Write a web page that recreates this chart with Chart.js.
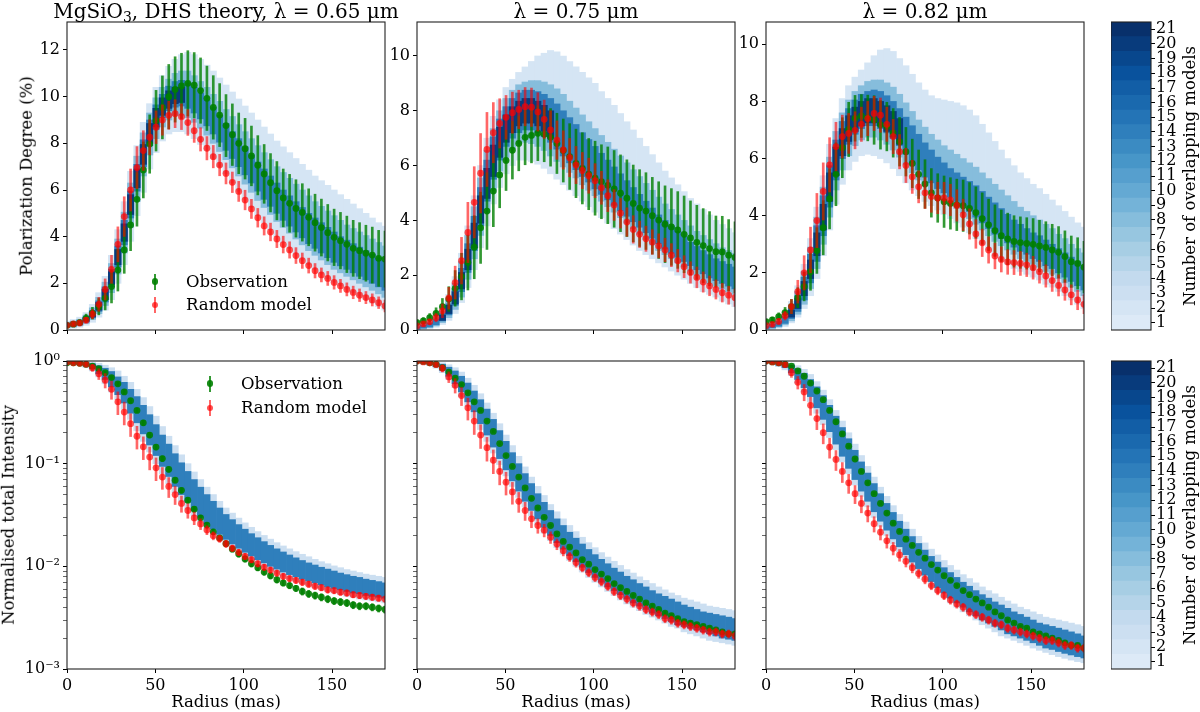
<!DOCTYPE html>
<html><head><meta charset="utf-8">
<script src="https://cdn.jsdelivr.net/npm/chart.js@4.4.1/dist/chart.umd.min.js"></script>
<style>
html,body{margin:0;padding:0;background:#fff;}
body{width:1200px;height:712px;position:relative;overflow:hidden;font-family:'DejaVu Serif',serif;color:#000;}
canvas{position:absolute;}
.t{position:absolute;white-space:nowrap;line-height:1;}
sub{font-size:70%;vertical-align:-0.25em;line-height:0;}
.mk{position:absolute;}
</style></head><body>
<script>
// ---------------- DATA ----------------
const radius = [0,3.6,7.2,10.8,14.4,18,21.6,25.2,28.8,32.4,36,39.6,43.2,46.8,50.4,54,57.6,61.2,64.8,68.4,72,75.6,79.2,82.8,86.4,90,93.6,97.2,100.8,104.4,108,111.6,115.2,118.8,122.4,126,129.6,133.2,136.8,140.4,144,147.6,151.2,154.8,158.4,162,165.6,169.2,172.8,176.4,180];
const radiusTicks = [0,50,100,150];
const cbLevels = [1,2,3,4,5,6,7,8,9,10,11,12,13,14,15,16,17,18,19,20,21];
const logTicks = [0.001,0.002,0.003,0.004,0.005,0.006,0.007,0.008,0.009,0.01,0.02,0.03,0.04,0.05,0.06,0.07,0.08,0.09,0.1,0.2,0.3,0.4,0.5,0.6,0.7,0.8,0.9,1];
const titles = ['MgSiO<sub>3</sub>, DHS theory, λ = 0.65 μm','λ = 0.75 μm','λ = 0.82 μm'];

// Polarization degree (%), λ = 0.65
const pol065Obs = [0.2,0.25,0.32,0.5,0.72,1.0,1.36,1.86,2.57,3.43,4.5,5.6,6.86,7.97,8.97,9.54,10.0,10.31,10.46,10.57,10.49,10.26,9.93,9.54,9.21,8.76,8.37,8.0,7.77,7.46,7.06,6.69,6.31,5.97,5.66,5.43,5.21,5.04,4.83,4.6,4.39,4.17,3.97,3.83,3.67,3.5,3.4,3.29,3.21,3.07,3.04];
const pol065ObsErr = [0.08,0.1,0.12,0.18,0.25,0.35,0.5,0.7,0.9,1.0,1.1,1.15,1.2,1.25,1.3,1.35,1.38,1.4,1.4,1.4,1.4,1.4,1.38,1.36,1.35,1.33,1.32,1.3,1.3,1.28,1.27,1.26,1.25,1.25,1.24,1.24,1.23,1.23,1.22,1.22,1.22,1.21,1.21,1.21,1.21,1.2,1.2,1.2,1.2,1.2,1.2];
const pol065Mod = [0.2,0.26,0.3,0.42,0.68,1.1,1.74,2.6,3.67,4.86,6.0,6.96,7.69,8.26,8.69,9.0,9.2,9.27,9.14,8.89,8.54,8.17,7.79,7.43,7.07,6.71,6.33,5.94,5.57,5.19,4.81,4.46,4.2,3.9,3.66,3.43,3.19,2.97,2.76,2.54,2.36,2.21,2.04,1.89,1.74,1.61,1.49,1.39,1.29,1.17,1.03];
const pol065ModErr = [0.05,0.06,0.08,0.12,0.2,0.3,0.45,0.6,0.75,0.85,0.9,0.9,0.85,0.75,0.7,0.65,0.6,0.6,0.55,0.55,0.5,0.5,0.5,0.48,0.46,0.45,0.44,0.43,0.42,0.41,0.4,0.39,0.38,0.37,0.36,0.35,0.34,0.33,0.32,0.31,0.3,0.3,0.29,0.28,0.28,0.27,0.27,0.26,0.26,0.25,0.25];
// model-overlap bands per radius: [outerLo, outerHi, midLo, midHi, coreLo, coreHi]
const pol065Bands = [[0.05,0.38,0.1,0.32,0.13,0.27],[0.08,0.45,0.13,0.38,0.17,0.32],[0.12,0.55,0.18,0.46,0.22,0.4],[0.2,0.75,0.28,0.64,0.34,0.56],[0.33,1.1,0.45,0.95,0.52,0.83],[0.55,1.6,0.7,1.4,0.8,1.25],[0.85,2.3,1.05,2.05,1.2,1.85],[1.3,3.2,1.6,2.85,1.85,2.6],[2.0,4.3,2.4,3.9,2.7,3.6],[2.8,5.5,3.3,5.05,3.65,4.7],[3.8,6.8,4.4,6.3,4.8,5.95],[4.9,7.9,5.5,7.45,5.95,7.1],[5.9,8.9,6.6,8.45,7.0,8.15],[6.9,9.7,7.5,9.3,7.9,9.0],[7.6,10.4,8.2,9.95,8.6,9.65],[8.1,10.9,8.7,10.4,9.1,10.1],[8.4,11.3,9.0,10.75,9.4,10.45],[8.5,11.6,9.2,11.0,9.55,10.65],[8.5,11.8,9.2,11.1,9.6,10.7],[8.4,11.9,9.1,11.1,9.5,10.6],[8.2,11.8,8.9,10.9,9.3,10.4],[7.95,11.6,8.65,10.65,9.05,10.15],[7.7,11.35,8.35,10.4,8.75,9.85],[7.35,11.1,8.0,10.1,8.4,9.55],[7.0,10.8,7.65,9.8,8.05,9.2],[6.7,10.5,7.3,9.45,7.7,8.85],[6.3,10.2,6.95,9.15,7.35,8.5],[5.95,9.9,6.6,8.8,7.0,8.2],[5.6,9.6,6.25,8.5,6.65,7.85],[5.25,9.3,5.9,8.2,6.3,7.5],[4.9,9.0,5.55,7.9,5.95,7.2],[4.6,8.7,5.25,7.6,5.6,6.9],[4.3,8.4,4.95,7.3,5.3,6.6],[4.0,8.1,4.65,7.0,5.0,6.3],[3.75,7.85,4.4,6.75,4.7,6.0],[3.5,7.6,4.15,6.5,4.45,5.75],[3.25,7.35,3.9,6.25,4.2,5.5],[3.0,7.1,3.65,6.0,3.95,5.25],[2.8,6.85,3.4,5.75,3.7,5.0],[2.6,6.6,3.2,5.5,3.5,4.8],[2.4,6.4,3.0,5.3,3.3,4.6],[2.2,6.2,2.8,5.1,3.1,4.4],[2.05,6.0,2.6,4.9,2.9,4.2],[1.9,5.8,2.45,4.7,2.75,4.0],[1.75,5.6,2.3,4.5,2.6,3.85],[1.6,5.4,2.15,4.35,2.45,3.7],[1.45,5.2,2.0,4.2,2.3,3.55],[1.3,5.0,1.85,4.05,2.15,3.4],[1.15,4.8,1.7,3.9,2.0,3.25],[1.0,4.6,1.55,3.75,1.85,3.1],[0.85,4.45,1.4,3.6,1.7,2.95]];
const pol065Dense = [null,null,null,[0.38,0.52],[0.56,0.78],[0.85,1.18],[1.3,1.75],[1.95,2.5],[2.8,3.45],[3.8,4.55],[4.95,5.8],[6.1,6.9],[7.1,7.95],[8.0,8.85],[8.7,9.5],[9.2,9.95],[9.5,10.25],[9.7,10.4],[9.75,10.4]];

// λ = 0.75
const pol075Obs = [0.27,0.33,0.45,0.61,0.85,1.13,1.52,1.95,2.46,3.02,3.73,4.34,5.07,5.66,6.19,6.56,6.81,7.03,7.1,7.18,7.14,7.03,6.81,6.55,6.33,6.08,5.9,5.69,5.54,5.41,5.28,5.15,4.99,4.81,4.62,4.45,4.34,4.17,4.01,3.86,3.76,3.65,3.49,3.36,3.2,3.08,2.97,2.86,2.85,2.73,2.65];
const pol075ObsErr = [0.1,0.12,0.15,0.2,0.3,0.45,0.65,0.85,1.0,1.15,1.3,1.4,1.3,1.2,1.1,1.05,1.0,1.0,1.0,1.0,1.0,1.05,1.1,1.15,1.2,1.25,1.3,1.3,1.35,1.35,1.4,1.4,1.4,1.4,1.4,1.4,1.4,1.4,1.4,1.4,1.4,1.4,1.4,1.35,1.35,1.35,1.35,1.3,1.3,1.3,1.3];
const pol075Mod = [0.15,0.22,0.3,0.45,0.7,1.16,1.73,2.53,3.56,4.66,5.72,6.59,7.2,7.54,7.76,7.93,8.05,8.15,8.13,7.96,7.69,7.3,6.93,6.57,6.29,6.02,5.82,5.63,5.45,5.19,4.9,4.56,4.26,3.94,3.67,3.49,3.33,3.21,3.07,2.92,2.73,2.53,2.31,2.1,1.92,1.75,1.61,1.48,1.36,1.27,1.18];
const pol075ModErr = [0.05,0.08,0.1,0.15,0.25,0.4,0.6,0.85,1.1,1.3,1.45,1.35,1.1,0.9,0.8,0.75,0.7,0.7,0.7,0.7,0.7,0.7,0.7,0.7,0.7,0.68,0.66,0.64,0.62,0.6,0.58,0.56,0.54,0.52,0.5,0.48,0.46,0.45,0.44,0.43,0.42,0.41,0.4,0.39,0.38,0.37,0.36,0.35,0.34,0.33,0.32];
const pol075Bands = [[0.0,0.2,0.02,0.15,0.04,0.12],[0.02,0.28,0.05,0.22,0.07,0.18],[0.05,0.38,0.08,0.3,0.11,0.26],[0.1,0.55,0.15,0.45,0.19,0.38],[0.2,0.85,0.27,0.7,0.33,0.6],[0.35,1.3,0.45,1.1,0.55,0.95],[0.6,1.95,0.75,1.7,0.9,1.5],[1.0,2.8,1.2,2.5,1.4,2.25],[1.55,3.8,1.85,3.45,2.1,3.15],[2.2,4.9,2.6,4.5,2.9,4.15],[3.0,6.0,3.45,5.55,3.8,5.2],[3.8,7.0,4.3,6.55,4.7,6.2],[4.6,7.8,5.1,7.35,5.5,7.05],[5.2,8.4,5.8,8.0,6.2,7.7],[5.7,8.85,6.3,8.45,6.7,8.15],[6.0,9.15,6.6,8.75,7.0,8.45],[6.2,9.4,6.8,8.95,7.2,8.65],[6.2,9.6,6.85,9.05,7.3,8.75],[6.15,9.8,6.8,9.1,7.3,8.75],[6.05,10.0,6.7,9.1,7.2,8.7],[5.9,10.1,6.55,9.05,7.05,8.6],[5.7,10.2,6.35,8.95,6.85,8.45],[5.5,10.15,6.15,8.8,6.6,8.25],[5.3,10.0,5.95,8.6,6.35,8.0],[5.1,9.8,5.75,8.35,6.1,7.75],[4.9,9.6,5.55,8.1,5.85,7.5],[4.7,9.4,5.3,7.85,5.6,7.2],[4.5,9.2,5.1,7.6,5.4,6.95],[4.3,9.0,4.9,7.35,5.15,6.7],[4.1,8.7,4.7,7.1,4.95,6.45],[3.9,8.45,4.5,6.85,4.75,6.2],[3.7,8.2,4.3,6.6,4.55,5.95],[3.5,7.9,4.1,6.35,4.35,5.7],[3.3,7.6,3.9,6.1,4.15,5.45],[3.1,7.3,3.7,5.85,3.95,5.2],[2.9,7.0,3.5,5.6,3.75,4.95],[2.75,6.7,3.3,5.35,3.55,4.7],[2.6,6.4,3.1,5.1,3.35,4.45],[2.45,6.1,2.9,4.85,3.15,4.2],[2.3,5.8,2.75,4.6,2.95,4.0],[2.15,5.55,2.6,4.4,2.8,3.8],[2.0,5.3,2.45,4.2,2.65,3.6],[1.85,5.05,2.3,4.0,2.5,3.4],[1.7,4.8,2.15,3.8,2.35,3.2],[1.55,4.6,2.0,3.6,2.2,3.05],[1.4,4.4,1.85,3.45,2.05,2.9],[1.3,4.2,1.7,3.3,1.9,2.75],[1.2,4.0,1.6,3.15,1.8,2.6],[1.05,3.85,1.5,3.0,1.7,2.5],[0.95,3.7,1.4,2.9,1.6,2.4],[0.85,3.55,1.3,2.8,1.5,2.3]];
const pol075Dense = [null,null,null,null,[0.35,0.55],[0.6,0.9],[0.95,1.4],[1.5,2.1],[2.2,2.95],[3.0,3.9],[3.9,4.9],[4.8,5.9],[5.6,6.75],[6.3,7.4],[6.85,7.85],[7.2,8.15],[7.45,8.35],[7.55,8.45],[7.55,8.45],[7.45,8.35],[7.25,8.2],[7.0,8.0]];

// λ = 0.82
const pol082Obs = [0.29,0.35,0.47,0.61,0.82,1.13,1.52,2.04,2.78,3.58,4.59,5.45,6.38,7.02,7.41,7.49,7.42,7.35,7.18,7.12,6.9,6.59,6.24,5.83,5.45,5.11,4.8,4.62,4.49,4.43,4.38,4.35,4.26,4.11,3.9,3.68,3.48,3.3,3.19,3.1,3.06,3.03,3.0,2.94,2.89,2.8,2.72,2.57,2.39,2.33,2.2];
const pol082ObsErr = [0.08,0.1,0.13,0.18,0.25,0.35,0.5,0.65,0.8,0.95,1.05,1.1,1.05,0.95,0.8,0.75,0.8,0.85,0.85,0.85,0.85,0.85,0.85,0.85,0.85,0.85,0.85,0.85,0.9,0.9,0.9,0.9,0.9,0.9,0.9,0.9,0.9,0.9,0.9,0.9,0.9,0.9,0.9,0.9,0.9,0.9,0.9,0.9,0.9,0.9,0.9];
const pol082Mod = [0.15,0.2,0.3,0.5,0.82,1.34,2.0,2.8,3.83,4.85,5.78,6.42,6.77,6.88,6.99,7.2,7.4,7.58,7.52,7.2,6.77,6.24,5.76,5.36,5.01,4.8,4.67,4.62,4.62,4.55,4.36,4.03,3.71,3.36,3.05,2.8,2.59,2.47,2.38,2.36,2.33,2.28,2.18,2.04,1.89,1.73,1.56,1.4,1.23,1.05,0.9];
const pol082ModErr = [0.05,0.07,0.1,0.15,0.25,0.4,0.6,0.8,0.95,1.0,0.95,0.85,0.75,0.7,0.65,0.6,0.6,0.6,0.6,0.6,0.6,0.6,0.6,0.58,0.56,0.55,0.55,0.55,0.55,0.55,0.55,0.55,0.53,0.5,0.48,0.46,0.45,0.44,0.43,0.42,0.42,0.41,0.4,0.4,0.39,0.38,0.37,0.36,0.35,0.34,0.33];
const pol082Bands = [[0.0,0.25,0.03,0.2,0.05,0.15],[0.02,0.32,0.05,0.26,0.08,0.21],[0.06,0.45,0.1,0.36,0.13,0.3],[0.12,0.65,0.18,0.55,0.23,0.47],[0.25,1.0,0.32,0.85,0.4,0.75],[0.45,1.55,0.55,1.35,0.65,1.2],[0.75,2.3,0.9,2.05,1.05,1.85],[1.2,3.2,1.45,2.9,1.65,2.65],[1.8,4.3,2.15,3.95,2.4,3.65],[2.6,5.4,3.0,5.0,3.3,4.7],[3.5,6.5,3.95,6.05,4.3,5.75],[4.4,7.4,4.9,6.95,5.25,6.65],[5.1,8.1,5.6,7.6,6.0,7.3],[5.6,8.55,6.1,8.05,6.5,7.75],[5.9,8.85,6.45,8.35,6.85,8.05],[6.1,9.1,6.65,8.55,7.05,8.25],[6.15,9.35,6.75,8.7,7.15,8.35],[6.1,9.6,6.75,8.75,7.15,8.4],[6.0,9.8,6.65,8.75,7.05,8.35],[5.85,9.85,6.5,8.65,6.9,8.2],[5.65,9.75,6.3,8.5,6.7,8.0],[5.4,9.5,6.05,8.25,6.45,7.75],[5.15,9.25,5.8,7.95,6.15,7.45],[4.9,8.95,5.5,7.65,5.85,7.15],[4.7,8.65,5.25,7.35,5.6,6.85],[4.5,8.4,5.05,7.1,5.35,6.55],[4.35,8.2,4.85,6.85,5.15,6.3],[4.2,8.1,4.7,6.65,4.95,6.05],[4.05,8.05,4.55,6.45,4.8,5.85],[3.9,8.0,4.4,6.3,4.65,5.65],[3.75,7.95,4.25,6.15,4.5,5.5],[3.6,7.85,4.1,6.0,4.35,5.35],[3.4,7.7,3.9,5.85,4.15,5.2],[3.2,7.5,3.7,5.7,3.95,5.05],[3.0,7.2,3.5,5.5,3.75,4.85],[2.8,6.9,3.3,5.3,3.55,4.65],[2.6,6.6,3.1,5.1,3.35,4.45],[2.45,6.3,2.95,4.9,3.2,4.25],[2.3,6.0,2.8,4.7,3.05,4.05],[2.15,5.75,2.65,4.5,2.9,3.85],[2.05,5.5,2.5,4.3,2.75,3.7],[1.95,5.3,2.4,4.15,2.65,3.55],[1.85,5.1,2.3,4.0,2.5,3.4],[1.75,4.95,2.2,3.85,2.4,3.3],[1.6,4.75,2.05,3.7,2.25,3.15],[1.5,4.55,1.95,3.55,2.15,3.0],[1.35,4.35,1.8,3.35,2.0,2.85],[1.2,4.15,1.65,3.2,1.85,2.7],[1.05,3.95,1.5,3.0,1.7,2.55],[0.9,3.75,1.35,2.85,1.55,2.4],[0.75,3.6,1.2,2.7,1.4,2.25]];
const pol082Dense = [null,null,null,null,[0.45,0.7],[0.75,1.1],[1.2,1.7],[1.8,2.45],[2.6,3.4],[3.5,4.4],[4.5,5.5],[5.4,6.4],[6.1,7.05],[6.6,7.5],[6.95,7.8],[7.15,8.0],[7.25,8.1],[7.25,8.1],[7.15,8.0],[6.95,7.85],[6.75,7.65],[6.5,7.4]];

// Normalised total intensity; errors in percent
const int065Obs = [0.96,0.96,0.95,0.93,0.89,0.84,0.77,0.69,0.6,0.5,0.41,0.33,0.25,0.19,0.145,0.112,0.088,0.069,0.055,0.044,0.036,0.0297,0.0252,0.0217,0.0189,0.0166,0.0147,0.0132,0.0118,0.0106,0.0097,0.0088,0.0081,0.0074,0.0069,0.0065,0.0061,0.0057,0.0054,0.0052,0.005,0.0048,0.0046,0.0045,0.0044,0.0042,0.0041,0.0041,0.004,0.0039,0.0038];
const int065ObsErrPct = [2,2,2,2,3,3,3,4,4,5,5,5,6,6,6,6,6,6,6,6,6,6,6,6,6,6,6,7,7,7,7,7,7,7,7,7,7,8,8,8,8,8,8,8,8,8,8,8,8,8,8];
const int065Mod = [0.98,0.96,0.95,0.93,0.86,0.75,0.65,0.53,0.4,0.318,0.245,0.185,0.146,0.116,0.091,0.074,0.06,0.05,0.041,0.035,0.0296,0.0259,0.0226,0.0199,0.0186,0.0166,0.015,0.0137,0.0125,0.0116,0.0106,0.0098,0.0092,0.0086,0.008,0.0076,0.0073,0.007,0.0067,0.0064,0.0062,0.0059,0.0058,0.0056,0.0055,0.0053,0.0052,0.0051,0.005,0.0049,0.0048];
const int065ModErrPct = [2,2,3,4,8,12,16,20,25,25,25,25,25,25,25,24,22,20,18,16,14,12,10,9,8,8,7,7,7,7,7,7,7,7,7,7,7,7,7,7,7,7,7,7,7,7,7,7,7,7,7];
// [outerLo, outerHi, coreLo, coreHi]
const int065Bands = [[0.93,1.0,0.95,1.0],[0.92,1.0,0.94,0.99],[0.9,0.99,0.92,0.98],[0.86,0.98,0.89,0.96],[0.8,0.97,0.84,0.94],[0.7,0.95,0.75,0.9],[0.6,0.91,0.66,0.85],[0.5,0.86,0.56,0.79],[0.42,0.8,0.47,0.7],[0.34,0.71,0.39,0.62],[0.27,0.62,0.31,0.53],[0.21,0.53,0.25,0.45],[0.165,0.44,0.195,0.37],[0.13,0.36,0.152,0.3],[0.1,0.29,0.12,0.24],[0.08,0.23,0.094,0.19],[0.064,0.185,0.075,0.155],[0.052,0.15,0.06,0.125],[0.043,0.122,0.05,0.102],[0.036,0.1,0.042,0.084],[0.031,0.083,0.035,0.07],[0.027,0.07,0.03,0.059],[0.0235,0.059,0.026,0.05],[0.0207,0.05,0.023,0.043],[0.0184,0.043,0.0205,0.037],[0.0165,0.037,0.0183,0.032],[0.0149,0.033,0.0165,0.0285],[0.0136,0.0295,0.015,0.0255],[0.0124,0.0265,0.0137,0.023],[0.0114,0.024,0.0126,0.0208],[0.0105,0.0218,0.0116,0.019],[0.0098,0.02,0.0108,0.0174],[0.0091,0.0184,0.01,0.016],[0.0085,0.017,0.0094,0.0148],[0.008,0.0158,0.0088,0.0138],[0.0075,0.0148,0.0083,0.0129],[0.0071,0.0139,0.0079,0.0121],[0.0068,0.0131,0.0075,0.0114],[0.0065,0.0124,0.0072,0.0108],[0.0062,0.0117,0.0069,0.0103],[0.0059,0.0111,0.0066,0.0098],[0.0057,0.0106,0.0063,0.0094],[0.0055,0.0101,0.0061,0.009],[0.0053,0.0097,0.0059,0.0086],[0.0051,0.0093,0.0057,0.0083],[0.005,0.009,0.0055,0.008],[0.0048,0.0087,0.0054,0.0078],[0.0047,0.0084,0.0052,0.0075],[0.0046,0.0082,0.0051,0.0073],[0.0045,0.008,0.005,0.0071],[0.0044,0.0078,0.0049,0.0069]];

const int075Obs = [1.0,0.99,0.96,0.93,0.86,0.78,0.68,0.59,0.49,0.4,0.33,0.26,0.206,0.157,0.12,0.094,0.074,0.058,0.046,0.037,0.03,0.025,0.0207,0.0175,0.0154,0.0135,0.0116,0.0105,0.0093,0.0084,0.0076,0.0068,0.0062,0.0057,0.0052,0.0048,0.0044,0.0041,0.0038,0.0035,0.0033,0.0031,0.0029,0.0028,0.0027,0.0026,0.0025,0.0024,0.0023,0.0022,0.0022];
const int075ObsErrPct = [1,1,1,2,2,2,3,3,3,3,3,3,3,3,3,3,3,3,3,3,3,3,3,3,3,3,3,3,3,3,3,4,4,4,4,4,4,4,4,4,4,4,4,4,4,4,4,4,4,4,4];
const int075Mod = [1.0,0.98,0.96,0.92,0.85,0.7,0.58,0.46,0.35,0.26,0.19,0.143,0.108,0.084,0.066,0.053,0.043,0.035,0.029,0.025,0.0225,0.0192,0.0165,0.0142,0.0124,0.0109,0.0097,0.0087,0.0078,0.0071,0.0064,0.0057,0.0052,0.0048,0.0044,0.0041,0.0038,0.0036,0.0034,0.0031,0.003,0.0028,0.0027,0.0026,0.0025,0.0024,0.0023,0.0023,0.0022,0.0022,0.0021];
const int075ModErrPct = [2,2,3,4,8,12,16,20,24,26,26,26,26,26,25,24,22,20,18,16,14,13,12,11,10,10,9,9,9,9,9,9,9,9,9,9,9,9,9,9,9,9,9,9,9,9,9,9,9,9,9];
const int075Bands = [[0.95,1.0,0.97,1.0],[0.93,1.0,0.95,0.99],[0.9,0.99,0.93,0.98],[0.85,0.98,0.88,0.96],[0.77,0.96,0.81,0.93],[0.66,0.92,0.71,0.87],[0.55,0.86,0.6,0.8],[0.45,0.78,0.5,0.71],[0.36,0.68,0.4,0.61],[0.28,0.58,0.32,0.51],[0.215,0.48,0.245,0.42],[0.165,0.39,0.19,0.34],[0.127,0.31,0.145,0.27],[0.098,0.245,0.112,0.21],[0.076,0.19,0.087,0.165],[0.06,0.15,0.068,0.128],[0.047,0.118,0.054,0.1],[0.038,0.093,0.043,0.08],[0.031,0.074,0.035,0.064],[0.0255,0.06,0.029,0.051],[0.021,0.049,0.024,0.042],[0.0178,0.04,0.02,0.035],[0.0152,0.034,0.017,0.029],[0.0131,0.029,0.0147,0.025],[0.0114,0.025,0.0127,0.0215],[0.01,0.0218,0.0111,0.0188],[0.0088,0.0192,0.0098,0.0165],[0.0078,0.017,0.0087,0.0146],[0.007,0.0152,0.0078,0.013],[0.0063,0.0136,0.007,0.0117],[0.0057,0.0123,0.0063,0.0106],[0.0052,0.0112,0.0058,0.0096],[0.0047,0.0102,0.0053,0.0088],[0.0043,0.0093,0.0048,0.008],[0.004,0.0086,0.0044,0.0074],[0.0037,0.0079,0.0041,0.0068],[0.0034,0.0073,0.0038,0.0063],[0.0032,0.0068,0.0035,0.0058],[0.003,0.0063,0.0033,0.0054],[0.0028,0.0059,0.0031,0.0051],[0.0026,0.0055,0.0029,0.0048],[0.0025,0.0052,0.0027,0.0045],[0.0023,0.0049,0.0026,0.0042],[0.0022,0.0047,0.0025,0.004],[0.0021,0.0045,0.0024,0.0038],[0.002,0.0043,0.0023,0.0036],[0.0019,0.0041,0.0022,0.0035],[0.00185,0.004,0.0021,0.0034],[0.0018,0.0039,0.002,0.0033],[0.00175,0.0038,0.00195,0.0032],[0.0017,0.0037,0.0019,0.0031]];

const int082Obs = [1.0,0.98,0.96,0.93,0.89,0.8,0.71,0.61,0.51,0.42,0.33,0.256,0.195,0.148,0.111,0.084,0.065,0.051,0.041,0.033,0.0263,0.0219,0.0184,0.016,0.0137,0.012,0.0104,0.0092,0.0081,0.0073,0.0065,0.0058,0.0053,0.0048,0.0044,0.004,0.0036,0.0033,0.003,0.0028,0.0026,0.0025,0.0023,0.0022,0.0021,0.002,0.0019,0.0018,0.0017,0.0017,0.0016];
const int082ObsErrPct = [1,1,1,2,2,2,2,3,3,3,3,3,3,3,3,3,3,3,3,3,3,3,3,3,3,3,3,3,3,3,3,3,3,3,3,3,3,3,3,3,3,3,3,3,3,3,3,3,3,3,3];
const int082Mod = [1.0,0.98,0.96,0.92,0.77,0.62,0.5,0.37,0.275,0.2,0.145,0.11,0.084,0.065,0.051,0.041,0.033,0.026,0.0215,0.0177,0.015,0.0129,0.0112,0.0097,0.0085,0.0075,0.0065,0.0058,0.0052,0.0047,0.0043,0.004,0.0036,0.0034,0.0032,0.003,0.0028,0.0027,0.0025,0.0024,0.0023,0.0022,0.0021,0.002,0.0019,0.0019,0.0018,0.0017,0.0017,0.0016,0.0016];
const int082ModErrPct = [2,2,3,5,10,14,18,20,22,22,22,22,22,21,20,19,18,17,16,15,14,13,12,11,10,10,9,9,9,9,9,9,9,9,9,9,9,9,9,9,9,9,9,9,9,9,9,9,9,9,9];
const int082Bands = [[0.95,1.0,0.97,1.0],[0.92,1.0,0.95,0.99],[0.88,0.99,0.91,0.98],[0.82,0.98,0.86,0.95],[0.72,0.95,0.77,0.91],[0.61,0.9,0.66,0.84],[0.5,0.83,0.55,0.76],[0.4,0.74,0.45,0.66],[0.31,0.63,0.35,0.56],[0.24,0.52,0.27,0.46],[0.18,0.42,0.205,0.37],[0.137,0.33,0.155,0.29],[0.104,0.26,0.118,0.225],[0.08,0.2,0.09,0.175],[0.062,0.155,0.07,0.135],[0.048,0.12,0.054,0.104],[0.038,0.094,0.043,0.081],[0.03,0.074,0.034,0.064],[0.0245,0.059,0.0275,0.051],[0.02,0.048,0.0225,0.041],[0.0165,0.039,0.0185,0.0335],[0.0138,0.032,0.0155,0.0275],[0.0116,0.027,0.013,0.023],[0.0099,0.023,0.011,0.0195],[0.0085,0.0196,0.0095,0.0167],[0.0074,0.0169,0.0082,0.0144],[0.0064,0.0147,0.0071,0.0125],[0.0056,0.0129,0.0062,0.011],[0.005,0.0114,0.0055,0.0097],[0.0044,0.0102,0.0049,0.0087],[0.004,0.0092,0.0044,0.0078],[0.0036,0.0083,0.004,0.007],[0.0033,0.0076,0.0036,0.0064],[0.003,0.0069,0.0033,0.0058],[0.0027,0.0063,0.003,0.0053],[0.0025,0.0058,0.0028,0.0049],[0.0023,0.0054,0.0026,0.0045],[0.0021,0.005,0.0024,0.0042],[0.002,0.0046,0.0022,0.0039],[0.0019,0.0043,0.0021,0.0036],[0.0018,0.004,0.002,0.0034],[0.0017,0.0038,0.0019,0.0032],[0.0016,0.0036,0.0018,0.003],[0.00152,0.0034,0.0017,0.0028],[0.00145,0.0032,0.0016,0.0027],[0.00138,0.0031,0.00155,0.0026],[0.00132,0.003,0.00148,0.0025],[0.00127,0.0029,0.00142,0.0024],[0.00122,0.0028,0.00137,0.0023],[0.00118,0.0027,0.00132,0.0022],[0.00115,0.0026,0.00128,0.0021]];

// ---------------- STYLE / BUILD ----------------
const BLUES = ['#f7fbff','#deebf7','#c6dbef','#9ecae1','#6baed6','#4292c6','#2171b5','#08519c','#08306b'];
function hexRgb(h){return [parseInt(h.slice(1,3),16),parseInt(h.slice(3,5),16),parseInt(h.slice(5,7),16)];}
function blues(t){
  const n=BLUES.length-1; const p=Math.min(n-1e-9,Math.max(0,t*n)); const i=Math.floor(p), f=p-i;
  const a=hexRgb(BLUES[i]), b=hexRgb(BLUES[i+1]);
  return 'rgb('+a.map((v,k)=>Math.round(v+(b[k]-v)*f)).join(',')+')';
}
const levelColor = k => blues(0.13 + (k-1)*0.87/20);
const GREEN_PT='rgba(0,128,0,0.9)', GREEN_BAR='rgba(0,128,0,0.8)';
const RED_PT='rgba(255,0,0,0.68)', RED_BAR='rgba(255,0,0,0.6)';
Chart.defaults.font.family = "'DejaVu Serif'";
Chart.defaults.color = '#000';
const TF = {family:"'DejaVu Serif'", size:16};

const boxPlugin = {id:'box', afterDraw(c){const a=c.chartArea, x=c.ctx; x.save(); x.strokeStyle='#222'; x.lineWidth=1.1; x.strokeRect(a.left,a.top,a.right-a.left,a.bottom-a.top); x.restore();}};

const AX=62, AXB=32, PT=14, PR=14, PW=318, PH=308;
function makeCanvas(l,t,w,h){
  const cv=document.createElement('canvas'); cv.width=w; cv.height=h;
  cv.style.left=l+'px'; cv.style.top=t+'px'; cv.style.width=w+'px'; cv.style.height=h+'px';
  document.body.appendChild(cv); return cv;
}
const SUP={'-':'⁻','0':'⁰','1':'¹','2':'²','3':'³'};
function isPow10(v){const e=Math.round(Math.log10(v)); return Math.abs(v/Math.pow(10,e)-1)<1e-6;}
function powLabel(v){ if(!isPow10(v)) return ''; const e=String(Math.round(Math.log10(v))); return '10'+e.split('').map(ch=>SUP[ch]).join(''); }

function buildPanel(o){
  const cv=makeCanvas(o.left-AX, o.top-PT, AX+PW+PR, PT+PH+AXB);
  const ds=[]; let ord=30;
  o.layers.forEach(L=>{
    const pts=[];
    radius.forEach((r,i)=>{const row=L.rows[i]; if(row) pts.push({x:r,y:[row[L.lo],row[L.hi]]});});
    ds.push({type:'bar',data:pts,backgroundColor:L.color,borderWidth:0,grouped:false,barPercentage:1,categoryPercentage:1,order:ord--,clip:0});
  });
  const errSet=(v,e,color,ordN)=>({type:'bar',data:radius.map((r,i)=>({x:r,y:o.log?[v[i]*(1-e[i]/100),v[i]*(1+e[i]/100)]:[v[i]-e[i],v[i]+e[i]]})),backgroundColor:color,borderWidth:0,grouped:false,maxBarThickness:2,barPercentage:1,categoryPercentage:1,order:ordN,clip:0});
  const ptSet=(v,color,ordN)=>({type:'line',data:radius.map((r,i)=>({x:r,y:v[i]})),showLine:false,pointRadius:3.4,pointHoverRadius:3.4,pointBackgroundColor:color,pointBorderWidth:0,borderColor:color,order:ordN,clip:0});
  ds.push(errSet(o.obs,o.obsErr,GREEN_BAR,6));
  ds.push(ptSet(o.obs,GREEN_PT,5));
  ds.push(errSet(o.mod,o.modErr,RED_BAR,4));
  ds.push(ptSet(o.mod,RED_PT,3));
  const grid={display:true,drawOnChartArea:false,drawTicks:true,tickLength:4,tickColor:'#000',color:'#000'};
  const y = o.log ? {
      type:'logarithmic',min:0.001,max:1,
      afterBuildTicks:s=>{s.ticks=logTicks.map(v=>({value:v}));},
      ticks:{display:o.yLabels,autoSkip:false,font:TF,color:'#000',padding:3,callback:v=>powLabel(v)},
      grid:Object.assign({},grid,{tickWidth:c=>(c.tick&&isPow10(c.tick.value))?1:0.6}),
      border:{display:false}, afterFit:s=>{s.width=AX;}
    } : {
      type:'linear',min:0,max:o.ymax,
      ticks:{stepSize:2,includeBounds:false,font:TF,color:'#000',padding:3,autoSkip:false},
      grid:grid,border:{display:false},afterFit:s=>{s.width=AX;}
    };
  new Chart(cv,{type:'bar',data:{datasets:ds},options:{
    responsive:false,animation:false,events:[],
    layout:{padding:{top:PT,right:PR,left:0,bottom:0}},
    plugins:{legend:{display:false},tooltip:{enabled:false}},
    scales:{
      x:{type:'linear',min:0,max:180,offset:false,
        afterBuildTicks:s=>{s.ticks=radiusTicks.map(v=>({value:v}));},
        ticks:{display:o.xLabels,font:TF,color:'#000',padding:3,maxRotation:0,autoSkip:false},
        grid:Object.assign({offset:false},grid),border:{display:false},afterFit:s=>{s.height=AXB;}},
      y:y
    }},plugins:[boxPlugin]});
}

function buildColorbar(top){
  const W=40, RW=48;
  const cv=makeCanvas(1111, top-PT, W+RW, PT+PH+PT);
  const ds=cbLevels.map(k=>({type:'bar',data:[{x:'c',y:[k-0.5,k+0.5]}],backgroundColor:levelColor(k),borderWidth:0,grouped:false,barPercentage:1,categoryPercentage:1,clip:0}));
  new Chart(cv,{type:'bar',data:{labels:['c'],datasets:ds},options:{
    responsive:false,animation:false,events:[],
    layout:{padding:{top:PT,right:0,left:0,bottom:PT}},
    plugins:{legend:{display:false},tooltip:{enabled:false}},
    scales:{
      x:{type:'category',display:false,offset:true},
      y:{type:'linear',position:'right',min:0.5,max:21.5,
        afterBuildTicks:s=>{s.ticks=cbLevels.map(v=>({value:v}));},
        ticks:{autoSkip:false,font:{family:"'DejaVu Serif'",size:16},color:'#000',padding:1},
        grid:{display:true,drawOnChartArea:false,drawTicks:true,tickLength:4,tickColor:'#000'},
        border:{display:false},afterFit:s=>{s.width=RW;}}
    }},plugins:[boxPlugin]});
}

const lefts=[67,417,766], tops=[22,361];
const polSets=[
  {obs:pol065Obs,obsErr:pol065ObsErr,mod:pol065Mod,modErr:pol065ModErr,bands:pol065Bands,dense:pol065Dense,ymax:13.2},
  {obs:pol075Obs,obsErr:pol075ObsErr,mod:pol075Mod,modErr:pol075ModErr,bands:pol075Bands,dense:pol075Dense,ymax:11.24},
  {obs:pol082Obs,obsErr:pol082ObsErr,mod:pol082Mod,modErr:pol082ModErr,bands:pol082Bands,dense:pol082Dense,ymax:10.78}];
const intSets=[
  {obs:int065Obs,obsErr:int065ObsErrPct,mod:int065Mod,modErr:int065ModErrPct,bands:int065Bands},
  {obs:int075Obs,obsErr:int075ObsErrPct,mod:int075Mod,modErr:int075ModErrPct,bands:int075Bands},
  {obs:int082Obs,obsErr:int082ObsErrPct,mod:int082Mod,modErr:int082ModErrPct,bands:int082Bands}];

polSets.forEach((s,j)=>buildPanel({left:lefts[j],top:tops[0],ymax:s.ymax,log:false,xLabels:false,yLabels:true,
  obs:s.obs,obsErr:s.obsErr,mod:s.mod,modErr:s.modErr,
  layers:[{rows:s.bands,lo:0,hi:1,color:levelColor(2)},{rows:s.bands,lo:2,hi:3,color:levelColor(8)},{rows:s.bands,lo:4,hi:5,color:levelColor(14)},{rows:s.dense,lo:0,hi:1,color:levelColor(20)}]}));
intSets.forEach((s,j)=>buildPanel({left:lefts[j],top:tops[1],log:true,xLabels:true,yLabels:j===0,
  obs:s.obs,obsErr:s.obsErr,mod:s.mod,modErr:s.modErr,
  layers:[{rows:s.bands,lo:0,hi:1,color:levelColor(3)},{rows:s.bands,lo:2,hi:3,color:levelColor(14)}]}));
buildColorbar(tops[0]); buildColorbar(tops[1]);

// ---------------- TEXT ----------------
function txt(html,x,y,size,opt){
  opt=opt||{};
  const d=document.createElement('div'); d.className='t'; d.innerHTML=html;
  d.style.fontSize=size+'px'; d.style.left=x+'px'; d.style.top=y+'px';
  d.style.transform = opt.left ? 'translate(0,-50%)' : ('translate(-50%,-50%)'+(opt.rot?' rotate(-90deg)':''));
  document.body.appendChild(d); return d;
}
titles.forEach((t,j)=>txt(t,lefts[j]+PW/2,11,20));
txt('Polarization Degree (%)',27,176,16.5,{rot:true});
txt('Normalised total Intensity',9,515,16.5,{rot:true});
lefts.forEach(l=>txt('Radius (mas)',l+PW/2,702,16.5));
txt('Number of overlapping models',1190,176,16.5,{rot:true});
txt('Number of overlapping models',1190,515,16.5,{rot:true});

function legendItem(mx,my,colorPt,colorBar,label,tx){
  const bar=document.createElement('div'); bar.className='mk';
  Object.assign(bar.style,{left:(mx-1)+'px',top:(my-8)+'px',width:'2px',height:'16px',background:colorBar});
  const dot=document.createElement('div'); dot.className='mk';
  Object.assign(dot.style,{left:(mx-3.4)+'px',top:(my-3.4)+'px',width:'6.8px',height:'6.8px',borderRadius:'50%',background:colorPt});
  document.body.appendChild(bar); document.body.appendChild(dot);
  txt(label,tx,my,16.5,{left:true});
}
legendItem(155,281.5,GREEN_PT,GREEN_BAR,'Observation',186);
legendItem(155,305,RED_PT,RED_BAR,'Random model',186);
legendItem(210,383.5,GREEN_PT,GREEN_BAR,'Observation',241);
legendItem(210,408,RED_PT,RED_BAR,'Random model',241);
</script>
</body></html>
